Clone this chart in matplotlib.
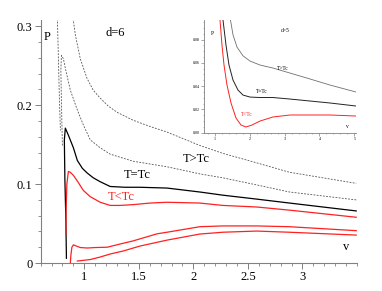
import matplotlib
matplotlib.use('Agg')
import matplotlib.pyplot as plt
from matplotlib.ticker import MultipleLocator

# d=6 isotherms (v, P)
v_hot_right = [0.897, 0.918, 0.963, 1.025, 1.082, 1.146, 1.219, 1.301, 1.447, 1.603, 1.758, 2.059, 2.269, 2.580, 2.881, 3.493]
p_hot_right = [0.310, 0.289, 0.259, 0.234, 0.219, 0.209, 0.199, 0.191, 0.181, 0.173, 0.166, 0.149, 0.139, 0.127, 0.115, 0.101]
v_hot_left = [0.753, 0.763, 0.772, 0.781]
p_hot_left = [0.310, 0.257, 0.206, 0.168]

v_warm = [0.799, 0.790, 0.785, 0.790, 0.808, 0.826, 0.872, 0.936, 0.991, 1.055, 1.146, 1.237, 1.447, 1.758, 2.059, 2.269, 2.580, 2.881, 3.493]
p_warm = [0.149, 0.206, 0.244, 0.263, 0.259, 0.247, 0.219, 0.194, 0.175, 0.156, 0.146, 0.138, 0.129, 0.122, 0.113, 0.108, 0.099, 0.090, 0.080]

v_crit = [0.836, 0.831, 0.822, 0.817, 0.826, 0.854, 0.900, 0.936, 0.982, 1.027, 1.082, 1.146, 1.237, 1.374, 1.511, 1.758, 2.059, 2.269, 2.580, 2.881, 3.493]
p_crit = [0.006, 0.054, 0.105, 0.156, 0.171, 0.162, 0.146, 0.130, 0.120, 0.114, 0.108, 0.103, 0.097, 0.096, 0.096, 0.095, 0.090, 0.086, 0.081, 0.076, 0.066]

v_cold = [0.831, 0.834, 0.840, 0.854, 0.872, 0.900, 0.936, 0.991, 1.055, 1.146, 1.237, 1.329, 1.447, 1.603, 1.758, 2.059, 2.269, 2.580, 2.881, 3.493]
p_cold = [0.035, 0.070, 0.100, 0.116, 0.115, 0.111, 0.104, 0.092, 0.084, 0.077, 0.073, 0.073, 0.074, 0.076, 0.077, 0.076, 0.073, 0.071, 0.067, 0.058]

v_low1 = [0.872, 0.877, 0.886, 0.900, 0.927, 0.963, 1.027, 1.100, 1.210, 1.356, 1.447, 1.667, 1.758, 2.059, 2.269, 2.580, 2.881, 3.493]
p_low1 = [0.0, 0.010, 0.020, 0.023, 0.0215, 0.0196, 0.019, 0.0196, 0.020, 0.025, 0.028, 0.037, 0.039, 0.046, 0.047, 0.047, 0.046, 0.041]

v_low2 = [0.936, 1.055, 1.146, 1.237, 1.356, 1.511, 1.758, 2.059, 2.269, 2.580, 2.881, 3.493]
p_low2 = [0.0025, 0.0044, 0.0076, 0.0114, 0.0152, 0.0215, 0.029, 0.0367, 0.039, 0.0405, 0.039, 0.0354]

# d=5 inset
v5_hot = [1.445, 1.517, 1.632, 1.805, 2.006, 2.293, 2.667, 3.155, 3.730, 4.305, 5.052]
p5_hot = [0.0967, 0.0841, 0.0735, 0.0660, 0.0615, 0.0581, 0.0555, 0.0512, 0.0461, 0.0409, 0.0349]
v5_crit = [1.230, 1.316, 1.402, 1.517, 1.661, 1.805, 2.006, 2.293, 2.667, 3.155, 3.730, 4.305, 5.052]
p5_crit = [0.0967, 0.0752, 0.0581, 0.0452, 0.0366, 0.0323, 0.0306, 0.0302, 0.0302, 0.0289, 0.0272, 0.0255, 0.0229]
v5_cold = [1.144, 1.201, 1.259, 1.345, 1.460, 1.603, 1.747, 1.891, 2.063, 2.293, 2.667, 3.155, 3.730, 4.305, 5.052]
p5_cold = [0.0967, 0.0752, 0.0581, 0.0409, 0.0255, 0.0126, 0.0066, 0.0049, 0.0066, 0.0100, 0.0135, 0.0152, 0.0152, 0.0152, 0.0143]

x_ticks = [1, 1.5, 2, 2.5, 3]
x_labels = ['1', '1.5', '2', '2.5', '3']
y_ticks = [0, 0.1, 0.2, 0.3]
y_labels = ['0', '0.1', '0.2', '0.3']
x5_ticks = [1, 2, 3, 4, 5]
y5_ticks = [0, 0.02, 0.04, 0.06, 0.08]

plt.rcParams['font.family'] = ['Liberation Serif', 'DejaVu Serif']
axis_col = '#808080'
red = '#ff2020'
dash = (0, (2.2, 1.6))

fig = plt.figure(figsize=(3.82, 2.91), dpi=100)
ax = fig.add_axes([0.1065, 0.0962, 0.828, 0.835])

ax.plot(v_hot_right, p_hot_right, color='#555555', lw=0.6, ls=dash)
ax.plot(v_hot_left, p_hot_left, color='#555555', lw=0.6, ls=dash)
ax.plot(v_warm, p_warm, color='#555555', lw=0.6, ls=dash)
ax.plot(v_crit, p_crit, color='black', lw=0.9)
ax.plot(v_cold, p_cold, color=red, lw=0.9)
ax.plot(v_low1, p_low1, color=red, lw=0.9)
ax.plot(v_low2, p_low2, color=red, lw=0.9)

ax.set_xlim(0.6, 3.5)
ax.set_ylim(0, 0.308)
ax.set_xticks(x_ticks)
ax.set_xticklabels(x_labels)
ax.set_yticks(y_ticks)
ax.set_yticklabels(y_labels)
ax.xaxis.set_minor_locator(MultipleLocator(0.1))
ax.yaxis.set_minor_locator(MultipleLocator(0.02))
ax.tick_params(which='major', length=4, width=0.7, color=axis_col, labelsize=9, pad=2)
ax.tick_params(which='minor', length=2, width=0.6, color=axis_col)
for s in ['top', 'right']:
    ax.spines[s].set_visible(False)
for s in ['left', 'bottom']:
    ax.spines[s].set_color(axis_col)
    ax.spines[s].set_linewidth(0.8)

ax.text(0.662, 0.286, 'P', fontsize=9, ha='center', va='center')
ax.text(1.283, 0.292, 'd=6', fontsize=9, ha='center', va='center')
ax.text(2.023, 0.132, 'T>Tc', fontsize=9, ha='center', va='center')
ax.text(1.484, 0.111, 'T=Tc', fontsize=9, ha='center', va='center')
ax.text(1.338, 0.0835, 'T<Tc', fontsize=9, ha='center', va='center', color=red)
ax.text(3.40, 0.020, 'v', fontsize=9, ha='center', va='center')

ins = fig.add_axes([0.534, 0.544, 0.398, 0.387])
ins.plot(v5_hot, p5_hot, color='#707070', lw=0.6)
ins.plot(v5_crit, p5_crit, color='#222222', lw=0.7)
ins.plot(v5_cold, p5_cold, color=red, lw=0.7)
ins.set_xlim(0.684, 5.05)
ins.set_ylim(0, 0.0967)
ins.set_xticks(x5_ticks)
ins.set_yticks(y5_ticks)
ins.xaxis.set_minor_locator(MultipleLocator(0.2))
ins.yaxis.set_minor_locator(MultipleLocator(0.005))
ins.tick_params(which='major', length=2, width=0.5, color=axis_col, labelsize=3, pad=1)
ins.tick_params(which='minor', length=1, width=0.4, color=axis_col)
for s in ['top', 'right']:
    ins.spines[s].set_visible(False)
for s in ['left', 'bottom']:
    ins.spines[s].set_color(axis_col)
    ins.spines[s].set_linewidth(0.6)
ins.text(0.914, 0.0855, 'P', fontsize=4, ha='center', va='center')
ins.text(3.01, 0.088, 'd=5', fontsize=4, ha='center', va='center')
ins.text(2.95, 0.0555, 'T>Tc', fontsize=4, ha='center', va='center')
ins.text(2.35, 0.0358, 'T=Tc', fontsize=4, ha='center', va='center')
ins.text(1.92, 0.0152, 'T<Tc', fontsize=4, ha='center', va='center', color=red)
ins.text(4.79, 0.0049, 'v', fontsize=4, ha='center', va='center')

plt.savefig('out.png', dpi=100)
plt.close()
